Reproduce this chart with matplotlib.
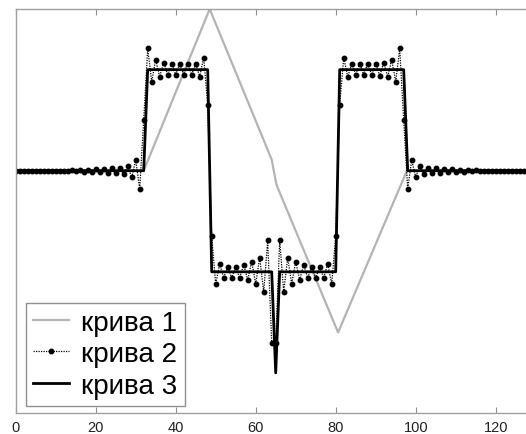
import matplotlib
matplotlib.use("Agg")
import matplotlib.pyplot as plt
import numpy as np

# ---- data ----
x_tick_vals = [0, 20, 40, 60, 80, 100, 120]
labels = ["крива 1", "крива 2", "крива 3"]

# curve 1: piecewise linear breakpoints
x1 = [0, 32, 48.5, 64, 65.2, 80.6, 97.8, 127]
y1 = [0, 0, 1.6, 0.11, -0.14, -1.6, 0, 0]

# curve 2: samples at x = 0..127
y2 = ([0.0] * 14 +
      [0.006, -0.007, 0.008, -0.009, 0.010, -0.012, 0.014, -0.016, 0.018, -0.020,
       0.023, -0.026, 0.030, -0.036, 0.050, -0.066, 0.106, -0.18, 0.50,
       1.21, 0.88, 1.10, 0.93, 1.07, 0.95, 1.06, 0.95, 1.06, 0.95, 1.06, 0.95,
       1.06, 0.93, 1.12, 0.65,
       -0.65, -1.12, -0.92, -1.06, -0.95, -1.06, -0.95, -1.06, -0.93, -1.08,
       -0.90, -1.12, -0.86, -1.20, -0.69, -1.70, -1.70, -0.69, -1.20, -0.86,
       -1.12, -0.90, -1.08, -0.93, -1.06, -0.95, -1.06, -0.95, -1.06, -0.92,
       -1.12, -0.65,
       0.65, 1.12, 0.93, 1.06, 0.95, 1.06, 0.95, 1.06, 0.95, 1.06, 0.94, 1.07,
       0.93, 1.10, 0.88, 1.21, 0.50,
       -0.18, 0.106, -0.066, 0.050, -0.036, 0.030, -0.026, 0.023, -0.020, 0.018,
       -0.016, 0.014, -0.012, 0.010, -0.009, 0.008, -0.007, 0.006] +
      [0.0] * 12)

# curve 3: samples at x = 0..127
y3 = [0] * 33 + [1] * 16 + [-1] * 16 + [-2] + [-1] * 15 + [1] * 17 + [0] * 30

x2 = np.arange(len(y2))
x3 = np.arange(len(y3))

# ---- figure ----
fig = plt.figure(figsize=(5.26, 4.35), dpi=100)
W, H = 526, 435
left_px, right_px, top_px, bot_px = 15.7, 527.7, 10, 414.3
ax = fig.add_axes([left_px / W, 1 - bot_px / H, (right_px - left_px) / W, (bot_px - top_px) / H])

ax.plot(x1, y1, color="#b4b4b4", lw=1.6, label=labels[0])
ax.plot(x2, y2, color="black", lw=0.9, ls=(0, (1, 1)), marker="o", ms=3.2, label=labels[1])
ax.plot(x3, y3, color="black", lw=2.0, label=labels[2])

ax.set_xlim(0, 128)
ax.set_ylim(-2.4, 1.6)
ax.set_xticks(x_tick_vals)
ax.set_yticks([])
ax.tick_params(axis="x", direction="in", length=4, width=0.8, color="#909090",
               top=True, labelsize=10.5, labelcolor="#222222", pad=5)
for lab in ax.get_xticklabels():
    lab.set_family(["Liberation Sans", "DejaVu Sans"])
for s in ax.spines.values():
    s.set_color("#a0a0a0")
    s.set_linewidth(1.0)

leg = ax.legend(loc="lower left", bbox_to_anchor=(0.02, 0.019), borderaxespad=0,
                prop={"family": ["Liberation Sans", "DejaVu Sans"], "size": 20},
                handlelength=1.3, handletextpad=0.45, borderpad=0.25,
                labelspacing=0.2, fancybox=False, framealpha=1, numpoints=1)
leg.get_frame().set_edgecolor("#909090")
leg.get_frame().set_linewidth(1.0)

fig.savefig("out.png", dpi=100)
